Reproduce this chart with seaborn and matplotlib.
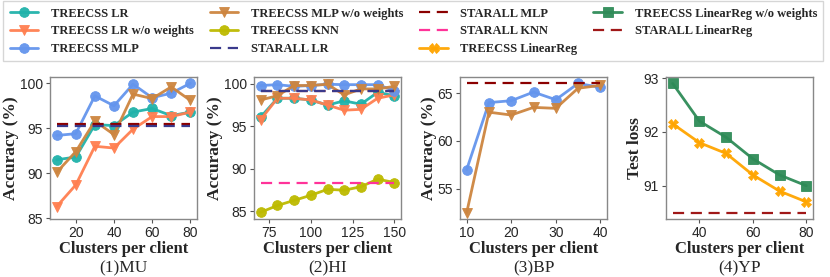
import numpy as np
import pandas as pd
import seaborn as sns
import matplotlib.pyplot as plt

# --- data ---
mu_x = [10, 20, 30, 40, 50, 60, 70, 80]
mu_lr = [91.5, 91.8, 95.4, 95.3, 96.8, 97.2, 96.4, 96.8]
mu_lr_nw = [86.3, 88.7, 93.0, 92.8, 94.9, 96.3, 96.3, 96.8]
mu_mlp = [94.2, 94.4, 98.6, 97.5, 99.9, 98.4, 98.9, 100.0]
mu_mlp_nw = [90.1, 92.4, 95.8, 94.3, 98.8, 98.3, 99.6, 98.1]
mu_star_lr = 95.3
mu_star_mlp = 95.5

hi_x = [70, 80, 90, 100, 110, 120, 130, 140, 150]
hi_lr = [96.1, 98.3, 98.3, 98.1, 97.5, 98.0, 97.6, 99.0, 98.6]
hi_lr_nw = [95.8, 98.3, 98.3, 98.1, 97.5, 96.9, 97.0, 98.3, 98.7]
hi_mlp = [99.8, 99.9, 99.7, 99.8, 99.95, 99.9, 99.9, 99.9, 99.2]
hi_mlp_nw = [98.1, 98.6, 99.8, 99.8, 99.95, 98.7, 99.4, 99.4, 99.7]
hi_knn = [84.9, 85.7, 86.3, 86.9, 87.6, 87.5, 87.9, 88.8, 88.4]
hi_star_lr = 99.1
hi_star_mlp = 99.2
hi_star_knn = 88.4

bp_x = [10, 15, 20, 25, 30, 35, 40]
bp_mlp = [57.0, 64.0, 64.2, 65.1, 64.3, 66.0, 65.6]
bp_mlp_nw = [52.5, 63.0, 62.7, 63.5, 63.4, 65.5, 65.8]
bp_star_mlp = 66.0

yp_x = [30, 40, 50, 60, 70, 80]
yp_linreg_nw = [92.9, 92.2, 91.9, 91.5, 91.2, 91.0]
yp_linreg = [92.15, 91.8, 91.6, 91.2, 90.9, 90.7]
yp_star_linreg = 90.5

# style of each series: (color, marker, dashed)
styles = {
    "TREECSS LR": ("#20B2AA", "o", False),
    "TREECSS LR w/o weights": ("#FF7F50", "v", False),
    "TREECSS MLP": ("#6495ED", "o", False),
    "TREECSS MLP w/o weights": ("#CD853F", "v", False),
    "TREECSS KNN": ("#BDBA00", "o", False),
    "STARALL LR": ("#3A3A8C", None, True),
    "STARALL MLP": ("#8B0000", None, True),
    "STARALL KNN": ("#FF3399", None, True),
    "TREECSS LinearReg": ("#FFA500", "X", False),
    "TREECSS LinearReg w/o weights": ("#2E8B57", "s", False),
    "STARALL LinearReg": ("#A01818", None, True),
}

sns.set_style("ticks")
plt.rcParams["font.family"] = ["Liberation Sans", "DejaVu Sans"]
SERIF = "Liberation Serif"

fig = plt.figure(figsize=(8.3, 2.77), dpi=100)
lefts = [50, 254, 460, 666]
axes = [fig.add_axes([l / 830, 0.209, 147 / 830, 0.513]) for l in lefts]


def draw(ax, x, name, y):
    color, marker, dashed = styles[name]
    if dashed:
        yy = [y] * len(x)
        sns.lineplot(x=x, y=yy, ax=ax, color=color, linestyle=(0, (5, 3)),
                     linewidth=1.6, label=name, legend=False)
    else:
        sns.lineplot(x=x, y=y, ax=ax, color=color, marker=marker, markersize=7,
                     markeredgecolor=color, markeredgewidth=0.6, alpha=0.95,
                     linewidth=2, label=name, legend=False)


ax = axes[0]
draw(ax, mu_x, "TREECSS LR", mu_lr)
draw(ax, mu_x, "TREECSS LR w/o weights", mu_lr_nw)
draw(ax, mu_x, "TREECSS MLP", mu_mlp)
draw(ax, mu_x, "TREECSS MLP w/o weights", mu_mlp_nw)
draw(ax, mu_x, "STARALL MLP", mu_star_mlp)
draw(ax, mu_x, "STARALL LR", mu_star_lr)
ax.set_ylim(84.9, 100.7)
ax.set_yticks([85, 90, 95, 100])
ax.set_xticks([20, 40, 60, 80])

ax = axes[1]
draw(ax, hi_x, "TREECSS LR", hi_lr)
draw(ax, hi_x, "TREECSS LR w/o weights", hi_lr_nw)
draw(ax, hi_x, "TREECSS MLP", hi_mlp)
draw(ax, hi_x, "TREECSS MLP w/o weights", hi_mlp_nw)
draw(ax, hi_x, "TREECSS KNN", hi_knn)
draw(ax, hi_x, "STARALL MLP", hi_star_mlp)
draw(ax, hi_x, "STARALL LR", hi_star_lr)
draw(ax, hi_x, "STARALL KNN", hi_star_knn)
ax.set_ylim(84.1, 100.8)
ax.set_yticks([85, 90, 95, 100])
ax.set_xticks([75, 100, 125, 150])

ax = axes[2]
draw(ax, bp_x, "TREECSS MLP", bp_mlp)
draw(ax, bp_x, "TREECSS MLP w/o weights", bp_mlp_nw)
draw(ax, bp_x, "STARALL MLP", bp_star_mlp)
ax.set_yticks([55, 60, 65])
ax.set_xticks([10, 20, 30, 40])

ax = axes[3]
draw(ax, yp_x, "TREECSS LinearReg w/o weights", yp_linreg_nw)
draw(ax, yp_x, "TREECSS LinearReg", yp_linreg)
draw(ax, yp_x, "STARALL LinearReg", yp_star_linreg)
ax.set_yticks([91, 92, 93])
ax.set_xticks([40, 60, 80])

ylabels = ["Accuracy (%)", "Accuracy (%)", "Accuracy (%)", "Test loss"]
titles = ["(1)MU", "(2)HI", "(3)BP", "(4)YP"]
for ax, yl, t in zip(axes, ylabels, titles):
    ax.set_xlabel("Clusters per client", family=SERIF, fontweight="bold", fontsize=12, labelpad=1)
    ax.set_ylabel(yl, family=SERIF, fontweight="bold", fontsize=12.5, labelpad=0.5)
    ax.tick_params(labelsize=10, length=3, color="#555555", pad=2)
    for s in ax.spines.values():
        s.set_color("#888888")
        s.set_linewidth(1)
    ax.text(0.5, -0.35, t, transform=ax.transAxes, ha="center", va="center",
            family=SERIF, fontsize=12.5)

# legend collected from all panels, in the reference order
handles = {}
for ax in axes:
    for h, l in zip(*ax.get_legend_handles_labels()):
        handles.setdefault(l, h)
order = list(styles.keys())
fig.legend([handles[k] for k in order], order, loc="upper left",
           bbox_to_anchor=(0.004, 0.8, 0.988, 0.195), mode="expand", ncol=4,
           prop={"family": SERIF, "weight": "bold", "size": 9},
           frameon=True, fancybox=False, edgecolor="#cccccc",
           handlelength=2.3, handletextpad=1.0, labelspacing=0.45,
           borderaxespad=0.0, borderpad=0.5)

fig.savefig("out.png", dpi=100)
